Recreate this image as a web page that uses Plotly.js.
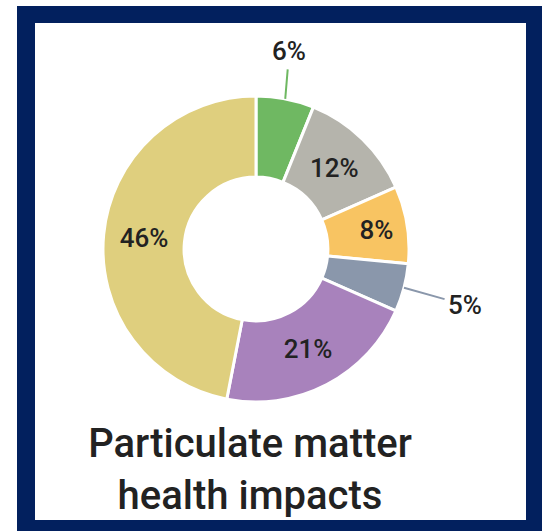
<!DOCTYPE html>
<html>
<head>
<meta charset="utf-8">
<script src="https://cdn.plot.ly/plotly-3.0.1.min.js"></script>
<style>
  html, body { margin: 0; padding: 0; background: #ffffff; }
  #chart { width: 545px; height: 531px; }
</style>
</head>
<body>
<div id="chart"></div>
<script>
// ---- data ----
var sliceValues = [6, 12, 8, 5, 21, 46];
var sliceLabels = ['6%', '12%', '8%', '5%', '21%', '46%'];
var sliceColors = ['#6fb862', '#b5b4ac', '#f8c462', '#8a97ab', '#a882bc', '#dfcf7e'];
var chartTitle = 'Particulate matter<br>health impacts';

// ---- layout constants ----
var W = 545, H = 531;
var cx = 256, cy = 249, R = 153;
var outsideIdx = [0, 3];               // slices labelled outside the ring
var outsideOffsets = { 0: [4, -48], 3: [61, 17] };
var FONT = 'Roboto, Arial, sans-serif';

var insideText = sliceLabels.map(function (t, i) {
  return outsideIdx.indexOf(i) >= 0 ? '' : t;
});

var trace = {
  type: 'pie',
  values: sliceValues,
  labels: sliceLabels,
  text: insideText,
  textinfo: 'text',
  textposition: 'inside',
  insidetextorientation: 'horizontal',
  insidetextfont: { family: FONT, size: 26, color: '#222222', weight: 500 },
  sort: false,
  direction: 'clockwise',
  rotation: 0,
  hole: 0.47,
  marker: { colors: sliceColors, line: { color: '#ffffff', width: 3 } },
  domain: { x: [(cx - R) / W, (cx + R) / W], y: [1 - (cy + R) / H, 1 - (cy - R) / H] },
  showlegend: false,
  hoverinfo: 'label'
};

// outside labels with leader lines, anchored on the slice's mid-angle
var total = sliceValues.reduce(function (a, b) { return a + b; }, 0);
var annotations = [];
var cum = 0;
sliceValues.forEach(function (v, i) {
  var mid = (cum + v / 2) / total * 2 * Math.PI;
  cum += v;
  if (outsideIdx.indexOf(i) < 0) return;
  var px = cx + R * Math.sin(mid);
  var py = cy - R * Math.cos(mid);
  annotations.push({
    xref: 'paper', yref: 'paper',
    x: px / W, y: 1 - py / H,
    text: sliceLabels[i],
    showarrow: true, arrowhead: 0, arrowwidth: 2, arrowcolor: sliceColors[i],
    standoff: 0, startstandoff: 2,
    ax: outsideOffsets[i][0], ay: outsideOffsets[i][1],
    font: { family: FONT, size: 26, color: '#222222', weight: 500 }
  });
});

var layout = {
  width: W, height: H,
  margin: { l: 0, r: 0, t: 0, b: 0 },
  paper_bgcolor: '#ffffff',
  title: {
    text: chartTitle,
    font: { family: FONT, size: 40, color: '#222222', weight: 500 },
    xref: 'paper', yref: 'container',
    x: 250 / W, xanchor: 'center',
    y: 1 - 457 / H, yanchor: 'middle'
  },
  shapes: [
    { type: 'rect', xref: 'paper', yref: 'paper', layer: 'below',
      x0: 17 / W, x1: 542 / W, y0: -0.02, y1: 1 - 6 / H,
      fillcolor: '#02205e', line: { width: 0 } },
    { type: 'rect', xref: 'paper', yref: 'paper', layer: 'below',
      x0: 35 / W, x1: 526 / W, y0: 1 - 520 / H, y1: 1 - 23 / H,
      fillcolor: '#ffffff', line: { width: 0 } }
  ],
  annotations: annotations
};

Plotly.newPlot('chart', [trace], layout, { displayModeBar: false, staticPlot: true });
</script>
</body>
</html>
